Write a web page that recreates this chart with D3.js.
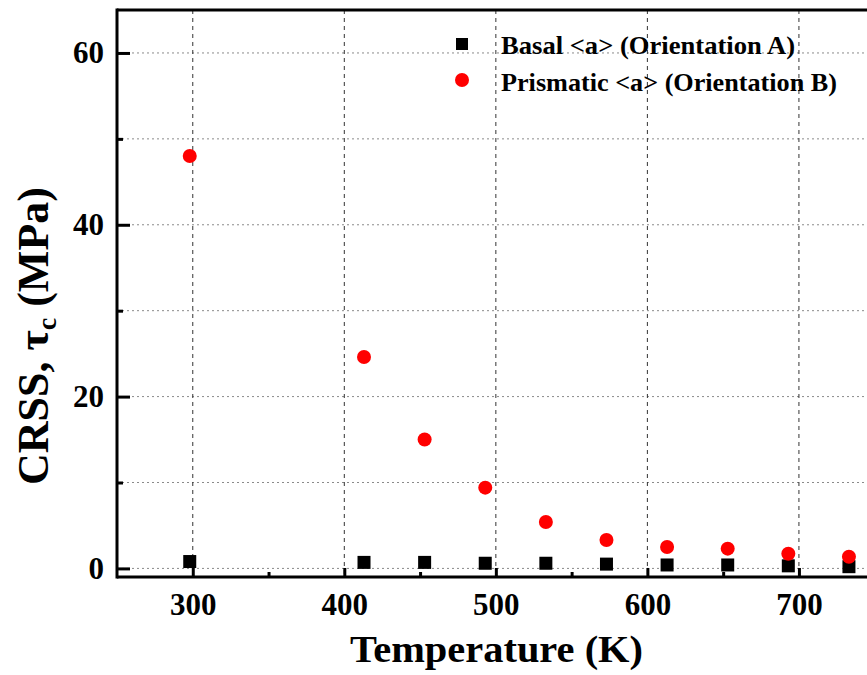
<!DOCTYPE html>
<html>
<head>
<meta charset="utf-8">
<script src="https://cdn.jsdelivr.net/npm/d3@7"></script>
<style>
  html, body { margin: 0; padding: 0; background: #fff; }
  svg { display: block; }
  text { font-family: "Liberation Serif", "Times New Roman", serif; font-weight: bold; fill: #000; }
</style>
</head>
<body>
<svg id="chart" width="867" height="675"></svg>
<script>
// ---- data ----
const temperatures = [298, 413, 453, 493, 533, 573, 613, 653, 693, 733];
const basalCRSS = [0.8, 0.7, 0.7, 0.6, 0.6, 0.5, 0.4, 0.4, 0.3, 0.2];
const prismaticCRSS = [48.0, 24.6, 15.0, 9.4, 5.4, 3.3, 2.5, 2.3, 1.7, 1.35];
const xMajorTicks = [300, 400, 500, 600, 700];
const xMinorTicks = [350, 450, 550, 650, 750];
const yMajorTicks = [0, 20, 40, 60];
const yMinorTicks = [10, 30, 50];
const yGridValues = [0, 10, 20, 30, 40, 50, 60];
const seriesNames = ["Basal <a> (Orientation A)", "Prismatic <a> (Orientation B)"];

// ---- layout ----
const plotL = 117, plotR = 874.7, plotT = 10, plotB = 577;
const svg = d3.select("#chart");
const x = d3.scaleLinear().domain([250, 750]).range([plotL, plotR]);
const y = d3.scaleLinear().domain([-1, 65]).range([plotB, plotT]);

// gridlines
svg.append("g").selectAll("line").data(yGridValues).join("line")
  .attr("x1", plotL).attr("x2", plotR)
  .attr("y1", d => y(d)).attr("y2", d => y(d))
  .attr("stroke", "#8a8a8a").attr("stroke-width", 1).attr("stroke-dasharray", "2,3");
svg.append("g").selectAll("line").data(xMajorTicks).join("line")
  .attr("x1", d => x(d)).attr("x2", d => x(d))
  .attr("y1", plotT).attr("y2", plotB)
  .attr("stroke", "#333").attr("stroke-width", 1).attr("stroke-dasharray", "4,4");

// axes
const xAxis = svg.append("g").attr("transform", `translate(0,${plotB})`)
  .call(d3.axisBottom(x).tickValues(xMajorTicks).tickSize(-9).tickPadding(16).tickFormat(d3.format("d")));
const xMinor = svg.append("g").attr("transform", `translate(0,${plotB})`)
  .call(d3.axisBottom(x).tickValues(xMinorTicks).tickSize(-5).tickFormat(""));
const yAxis = svg.append("g").attr("transform", `translate(${plotL},0)`)
  .call(d3.axisLeft(y).tickValues(yMajorTicks).tickSize(-13).tickPadding(13).tickFormat(d3.format("d")));
const yMinor = svg.append("g").attr("transform", `translate(${plotL},0)`)
  .call(d3.axisLeft(y).tickValues(yMinorTicks).tickSize(-6).tickFormat(""));
[xAxis, xMinor, yAxis, yMinor].forEach(g => {
  g.select(".domain").remove();
  g.selectAll(".tick line").attr("stroke", "#000").attr("stroke-width", 3);
  g.selectAll(".tick text").attr("font-size", 31).attr("font-family", "Liberation Serif").attr("font-weight", "bold").attr("fill", "#000");
});

// frame lines
svg.append("line").attr("x1", plotL).attr("x2", plotL).attr("y1", plotT - 1.5).attr("y2", plotB + 1.5)
  .attr("stroke", "#000").attr("stroke-width", 3);
svg.append("line").attr("x1", plotL).attr("x2", 867).attr("y1", plotB).attr("y2", plotB)
  .attr("stroke", "#000").attr("stroke-width", 3);
svg.append("line").attr("x1", plotL).attr("x2", 867).attr("y1", plotT).attr("y2", plotT)
  .attr("stroke", "#000").attr("stroke-width", 3);

// markers
const sq = 13;
svg.append("g").selectAll("rect").data(temperatures.map((t, i) => [t, basalCRSS[i]])).join("rect")
  .attr("x", d => x(d[0]) - sq / 2).attr("y", d => y(d[1]) - sq / 2)
  .attr("width", sq).attr("height", sq).attr("fill", "#000");
svg.append("g").selectAll("circle").data(temperatures.map((t, i) => [t, prismaticCRSS[i]])).join("circle")
  .attr("cx", d => x(d[0])).attr("cy", d => y(d[1])).attr("r", 7).attr("fill", "#f00");

// legend
const lg = svg.append("g");
lg.append("rect").attr("x", 456).attr("y", 38).attr("width", 12).attr("height", 12).attr("fill", "#000");
lg.append("circle").attr("cx", 462).attr("cy", 80).attr("r", 7).attr("fill", "#f00");
lg.append("text").attr("x", 501).attr("y", 54).attr("font-size", 25)
  .attr("textLength", 294).attr("lengthAdjust", "spacingAndGlyphs").text(seriesNames[0]);
lg.append("text").attr("x", 501).attr("y", 91).attr("font-size", 25)
  .attr("textLength", 336).attr("lengthAdjust", "spacingAndGlyphs").text(seriesNames[1]);

// axis titles
svg.append("text").attr("x", 350).attr("y", 662).attr("font-size", 38)
  .attr("textLength", 293).attr("lengthAdjust", "spacingAndGlyphs").text("Temperature (K)");

const yt = svg.append("text").attr("transform", "translate(48,485) rotate(-90)")
  .attr("font-size", 44);
yt.append("tspan").text("CRSS, ");
yt.append("tspan").text("τ");
yt.append("tspan").attr("font-size", 28).attr("dy", 8).text("c");
yt.append("tspan").attr("dy", -8).text(" (MPa)");
</script>
</body>
</html>
